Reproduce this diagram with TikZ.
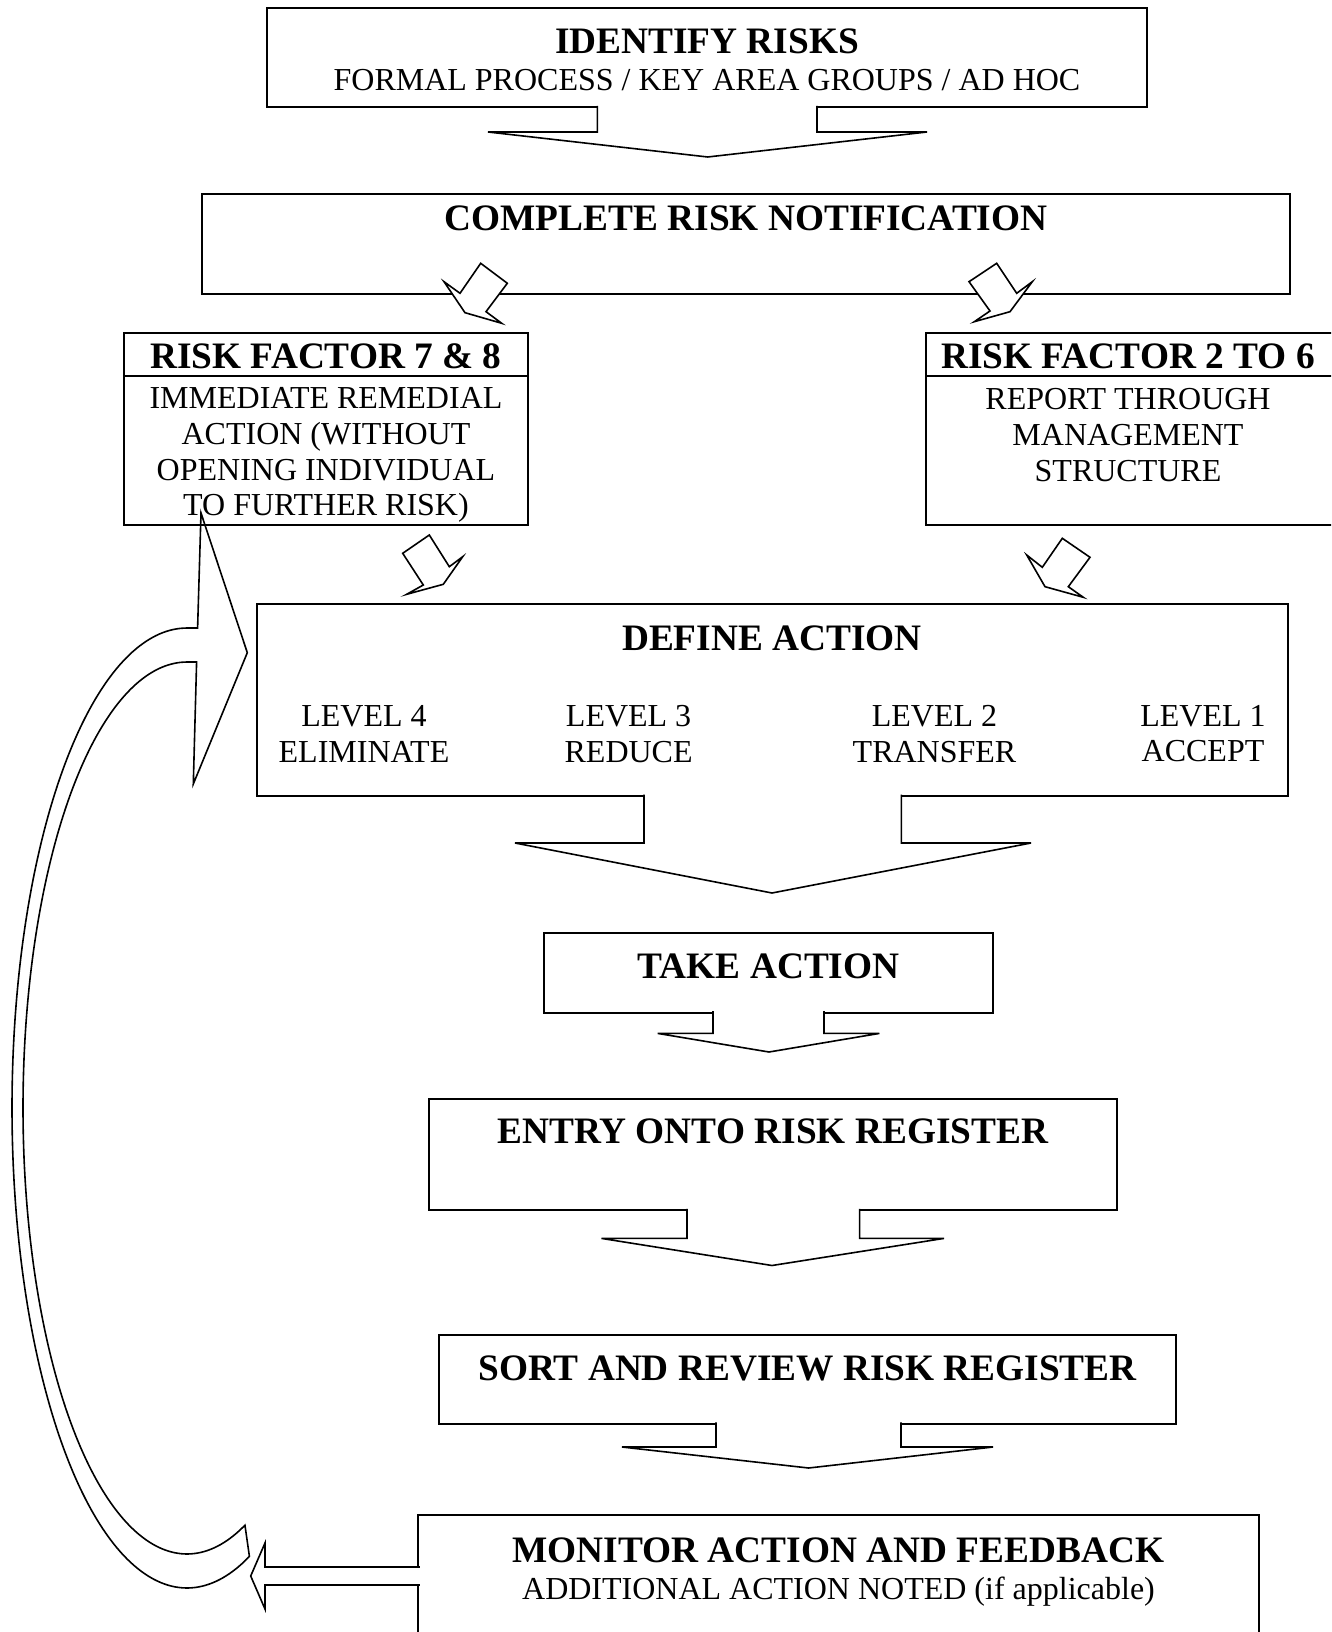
\documentclass[tikz,border=0pt]{standalone}
\usepackage{fontspec}
\setmainfont{Liberation Serif}
\usepackage{tikz}
\usetikzlibrary{
    arrows.meta,
    positioning
}

\begin{document}
\begin{tikzpicture}[
x=0.375pt, y=-0.375pt,
box/.style={
draw,
line width=0.75pt,
inner sep=0pt
},
title/.style={
inner sep=0pt,
anchor=base,
font=\fontsize{14}{16}\selectfont\bfseries
},
body/.style={
inner sep=0pt,
align=center,
font=\fontsize{12}{13.4}\selectfont
},
blockarr/.style={
draw,
line width=0.6pt,
line join=miter,
fill=white
}
]

\useasboundingbox (0,0) rectangle (1331,1632);
\clip (0,0) rectangle (1331,1632);
\fill[white] (0,0) rectangle (1331,1632);

% boxes
\node[box, minimum width=330pt, minimum height=37.1pt] (idr) at (707,57.6) {};
\node[box, minimum width=408pt, minimum height=37.7pt] (crn) at (746,244.2) {};
\node[box, minimum width=151.7pt, minimum height=72.2pt] (rfhigh) at (326.2,429.2) {};
\node[box, minimum width=157.1pt, minimum height=72.2pt] (rflow) at (1135.5,429.2) {};
\node[box, minimum width=386.8pt, minimum height=72pt] (def) at (772.7,700) {};
\node[box, minimum width=168.4pt, minimum height=30pt] (take) at (768.5,972.5) {};
\node[box, minimum width=258pt, minimum height=41.6pt] (entry) at (773,1154.5) {};
\node[box, minimum width=276.4pt, minimum height=33.4pt] (sort) at (807.5,1379.5) {};
\node[box, minimum width=315.2pt, minimum height=48.6pt] (mon) at (838.7,1580.2) {};

\draw[line width=0.75pt] (rfhigh.west |- 0,376.5) -- (rfhigh.east |- 0,376.5);
\draw[line width=0.75pt] (rflow.west |- 0,376.5) -- (rflow.east |- 0,376.5);

% texts
\node[title] (idrtitle) at (707,54) {IDENTIFY RISKS};
\node[body, anchor=base] (idrsub) at (707,90.6)
{FORMAL PROCESS / KEY AREA GROUPS / AD HOC};

\node[title] (crntitle) at (746,231) {COMPLETE RISK NOTIFICATION};

\node[title] (rfhightitle) at (326,369) {RISK FACTOR 7 \& 8};
\node[body] (rfhightext) at (326,455)
{IMMEDIATE REMEDIAL\\ACTION (WITHOUT\\OPENING INDIVIDUAL\\TO FURTHER RISK)};

\node[title] (rflowtitle) at (1128,369) {RISK FACTOR 2 TO 6};
\node[body] (rflowtext) at (1128,435)
{REPORT THROUGH\\MANAGEMENT\\STRUCTURE};

\node[title] (deftitle) at (772,650.4) {DEFINE ACTION};
\node[body] (lvlfour) at (364,733.7) {LEVEL 4\\ELIMINATE};
\node[body] (lvlthree) at (628.6,733.7) {LEVEL 3\\REDUCE};
\node[body] (lvltwo) at (934.5,733.7) {LEVEL 2\\TRANSFER};
\node[body] (lvlone) at (1203,733.7) {LEVEL 1\\ACCEPT};

\node[title] (taketitle) at (768.6,978) {TAKE ACTION};
\node[title] (entrytitle) at (772.7,1143.5) {ENTRY ONTO RISK REGISTER};
\node[title] (sorttitle) at (807.6,1380) {SORT AND REVIEW RISK REGISTER};

\node[title] (montitle) at (838.5,1562) {MONITOR ACTION AND FEEDBACK};
\node[body, anchor=base] (monsub) at (838.5,1599.6)
{ADDITIONAL ACTION NOTED (if applicable)};

% down arrows
\draw[blockarr] (597.4,105.8) -- (597.4,132) -- (488,132) -- (707.7,157)
-- (927,132) -- (817,132) -- (817,105.8);
\draw[blockarr] (644,794.6) -- (644,843) -- (515,843) -- (772,893)
-- (1031,843) -- (901.3,843) -- (901.3,794.6);
\draw[blockarr] (713,1011.2) -- (713,1033.4) -- (657.7,1033.4) -- (769,1052)
-- (879.4,1033.4) -- (824,1033.4) -- (824,1011.2);
\draw[blockarr] (687,1208.8) -- (687,1238.4) -- (601.5,1238.4) -- (772,1265.5)
-- (944,1238.4) -- (859.6,1238.4) -- (859.6,1208.8);
\draw[blockarr] (716,1422.3) -- (716,1447) -- (622,1447) -- (808.6,1468)
-- (993,1447) -- (901,1447) -- (901,1422.3);

% small tilted arrows
\draw[blockarr] (480.7,263.3) -- (507.3,283.3) -- (486,311.7) -- (501.7,323.3)
-- (465,312.7) -- (444,281.7) -- (460,293.3) -- cycle;
\draw[blockarr] (969,281.7) -- (996.7,263.3) -- (1016.7,293.3) -- (1032.3,281.7)
-- (1010,311.7) -- (974.3,321.7) -- (990,311) -- cycle;
\draw[blockarr] (402.7,553.3) -- (429.3,535) -- (449.3,566.7) -- (462.7,556.7)
-- (443.3,584.3) -- (406.7,594.3) -- (423.3,585) -- cycle;
\draw[blockarr] (1062.3,538.3) -- (1090,557.3) -- (1068.3,586.7) -- (1083.3,597.3)
-- (1045,586.7) -- (1026.7,555) -- (1042.3,567.3) -- cycle;

% feedback arrows
\draw[blockarr] (419.8,1567) -- (265,1567) -- (265,1543) -- (250.7,1576)
-- (265,1609) -- (265,1585) -- (419.8,1585);
\draw[blockarr, fill=none]
plot[domain=69.1:270, samples=90, smooth] ({187+175*cos(\x)},{1108+480*sin(\x)})
-- (197.6,628) -- (201,513) -- (247.3,652.7) -- (193.3,784) -- (196.6,662)
-- plot[domain=270:69.3, samples=90, smooth] ({187+164*cos(\x)},{1108+446*sin(\x)})
-- cycle;

\end{tikzpicture}
\end{document}
